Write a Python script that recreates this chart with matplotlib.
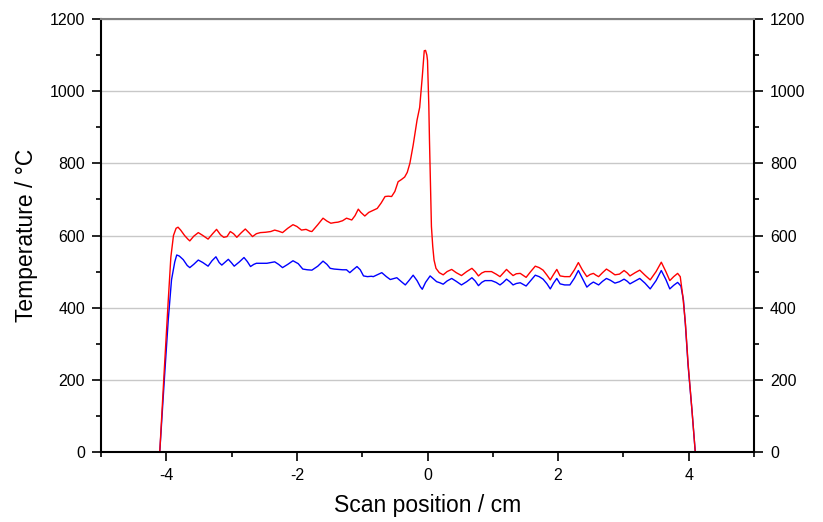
import numpy as np
import matplotlib
matplotlib.use("Agg")
import matplotlib.pyplot as plt
from matplotlib.ticker import MultipleLocator

# -------------------------
# DATA
# -------------------------
blue_x = [-4.10, -4.03, -3.97, -3.92, -3.87, -3.84, -3.80, -3.74, -3.68, -3.64,
          -3.58, -3.51, -3.44, -3.36, -3.30, -3.24, -3.19, -3.15, -3.10, -3.05,
          -3.00, -2.96, -2.88, -2.81, -2.76, -2.71, -2.66, -2.62, -2.54, -2.46,
          -2.40, -2.34, -2.28, -2.22, -2.14, -2.06, -1.98, -1.91, -1.84, -1.77,
          -1.68, -1.60, -1.54, -1.49, -1.43, -1.37, -1.30, -1.24, -1.19, -1.14,
          -1.08, -1.03, -0.98, -0.92, -0.86, -0.83, -0.76, -0.70, -0.63, -0.57,
          -0.51, -0.47, -0.40, -0.34, -0.28, -0.22, -0.16, -0.11, -0.08, -0.03,
          0.04, 0.09, 0.14, 0.19, 0.24, 0.30, 0.37, 0.44, 0.52, 0.60,
          0.68, 0.73, 0.78, 0.83, 0.88, 0.98, 1.05, 1.11, 1.16, 1.21,
          1.26, 1.31, 1.36, 1.42, 1.47, 1.51, 1.58, 1.65, 1.71, 1.77,
          1.83, 1.88, 1.93, 1.98, 2.03, 2.10, 2.18, 2.25, 2.31, 2.37,
          2.44, 2.49, 2.54, 2.58, 2.62, 2.68, 2.74, 2.80, 2.87, 2.94,
          3.01, 3.06, 3.10, 3.18, 3.25, 3.33, 3.41, 3.50, 3.58, 3.65,
          3.71, 3.77, 3.83, 3.88, 3.92, 3.95, 3.99, 4.05, 4.10]
blue_y = [0, 200, 366, 477, 527, 546, 543, 533, 517, 511,
          520, 532, 525, 515, 530, 541, 525, 518, 526, 534,
          524, 515, 527, 539, 528, 514, 520, 523, 523, 523,
          525, 527, 520, 511, 520, 530, 522, 507, 505, 504,
          515, 529, 520, 509, 507, 506, 505, 505, 497, 505,
          514, 505, 488, 486, 487, 486, 492, 497, 486, 478,
          481, 483, 472, 463, 476, 490, 475, 458, 451, 470,
          488, 480, 472, 469, 465, 474, 481, 473, 463, 472,
          483, 474, 461, 470, 475, 475, 470, 463, 470, 479,
          472, 463, 467, 469, 464, 460, 475, 490, 486, 479,
          466, 452, 468, 481, 466, 463, 463, 482, 503, 482,
          457, 465, 471, 467, 463, 473, 481, 476, 468, 472,
          479, 473, 466, 474, 481, 468, 452, 475, 503, 478,
          452, 462, 470, 460, 420, 350, 240, 115, 0]

red_x = [-4.10, -4.03, -3.97, -3.93, -3.89, -3.85, -3.82, -3.78, -3.72, -3.67,
         -3.64, -3.58, -3.51, -3.44, -3.36, -3.29, -3.23, -3.17, -3.12, -3.07,
         -3.02, -2.97, -2.92, -2.85, -2.79, -2.73, -2.68, -2.62, -2.56, -2.48,
         -2.40, -2.34, -2.28, -2.22, -2.14, -2.06, -2.00, -1.93, -1.86, -1.80,
         -1.77, -1.68, -1.60, -1.54, -1.48, -1.42, -1.37, -1.30, -1.24, -1.16,
         -1.11, -1.06, -1.02, -0.96, -0.90, -0.84, -0.77, -0.71, -0.65, -0.60,
         -0.55, -0.50, -0.45, -0.40, -0.35, -0.31, -0.27, -0.22, -0.16, -0.12,
         -0.08, -0.05, -0.03, -0.01, 0.00, 0.02, 0.03, 0.05, 0.06, 0.08,
         0.10, 0.13, 0.18, 0.24, 0.30, 0.37, 0.44, 0.52, 0.60, 0.68,
         0.73, 0.78, 0.83, 0.88, 0.98, 1.05, 1.11, 1.16, 1.21, 1.26,
         1.31, 1.36, 1.42, 1.47, 1.51, 1.58, 1.65, 1.71, 1.77, 1.83,
         1.88, 1.93, 1.98, 2.03, 2.10, 2.18, 2.25, 2.31, 2.37, 2.44,
         2.49, 2.54, 2.58, 2.62, 2.68, 2.74, 2.80, 2.87, 2.94, 3.01,
         3.06, 3.10, 3.18, 3.25, 3.33, 3.41, 3.50, 3.58, 3.65, 3.71,
         3.77, 3.83, 3.87, 3.91, 3.95, 3.99, 4.05, 4.10]
red_y = [0, 230, 420, 540, 600, 620, 623, 615, 600, 590,
         585, 598, 608, 600, 590, 605, 617, 602, 595, 597,
         611, 605, 595, 608, 618, 607, 597, 605, 608, 609,
         611, 615, 612, 608, 620, 630, 625, 615, 617, 612,
         611, 630, 648, 640, 634, 636, 637, 641, 648, 643,
         655, 673, 664, 654, 664, 669, 675, 690, 708, 709,
         708, 722, 749, 755, 762, 775, 800, 850, 920, 955,
         1040, 1112, 1113, 1100, 1085, 960, 865, 700, 625, 570,
         532, 509, 497, 491, 500, 506, 497, 489, 500, 509,
         500, 488, 496, 500, 500, 493, 486, 496, 506, 497,
         489, 494, 495, 489, 484, 500, 515, 511, 504, 490,
         477, 492, 506, 488, 486, 486, 505, 525, 505, 486,
         492, 495, 490, 486, 497, 507, 500, 491, 493, 503,
         496, 488, 497, 504, 490, 477, 500, 526, 500, 475,
         486, 495, 486, 431, 355, 246, 115, 0]

x_ticks = [-4, -2, 0, 2, 4]
y_ticks = [0, 200, 400, 600, 800, 1000, 1200]

# -------------------------
# ÇİZİM
# -------------------------
plt.rcParams['font.family'] = ['Liberation Sans', 'DejaVu Sans']
plt.rcParams['axes.unicode_minus'] = False

fig = plt.figure(figsize=(8.23, 5.22), dpi=100)
ax = fig.add_axes([0.1227, 0.1341, 0.7935, 0.8295])

ax.plot(blue_x, blue_y, color='#0000ff', lw=1.0)
ax.plot(red_x, red_y, color='#ff0000', lw=1.0)

ax.set_xlim(-5, 5)
ax.set_ylim(0, 1200)
ax.set_xticks(x_ticks)
ax.set_yticks(y_ticks)
ax.xaxis.set_minor_locator(MultipleLocator(1))
ax.yaxis.set_minor_locator(MultipleLocator(100))

ax.grid(axis='y', color='#c8c8c8', lw=1)
ax.set_axisbelow(True)

ax.tick_params(which='both', direction='out', width=1.2, labelsize=11.5,
               left=True, right=True, labelleft=True, labelright=True,
               top=False, bottom=True, colors='black')
ax.tick_params(which='major', length=6.5, pad=5)
ax.tick_params(which='minor', length=3.5)

for side in ['left', 'right', 'bottom']:
    ax.spines[side].set_linewidth(1.5)
    ax.spines[side].set_color('black')
ax.spines['top'].set_color('#808080')
ax.spines['top'].set_linewidth(1.5)

ax.set_xlabel('Scan position / cm', fontsize=16.5, labelpad=8)
ax.set_ylabel('Temperature / °C', fontsize=16.5, labelpad=8)

plt.savefig('out.png', dpi=100)
